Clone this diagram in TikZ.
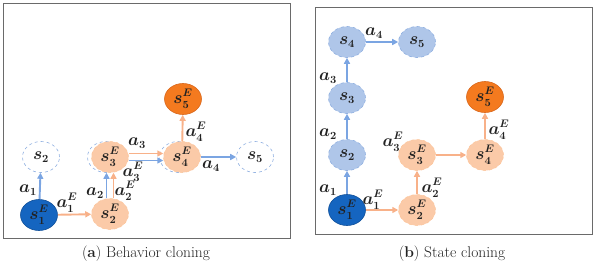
\documentclass[tikz,border=0pt]{standalone}
\usetikzlibrary{shapes.geometric,arrows.meta}
\definecolor{dblue}{HTML}{1565C0}
\definecolor{dbluee}{HTML}{0E4E98}
\definecolor{lorange}{HTML}{FBCAA8}
\definecolor{dorange}{HTML}{F47A1F}
\definecolor{dorangee}{HTML}{D8661A}
\definecolor{lblue}{HTML}{AFC6E9}
\definecolor{dashblue}{HTML}{8DAEE0}
\definecolor{barrowc}{HTML}{7BA5E2}
\definecolor{oarrowc}{HTML}{F8B189}
\definecolor{framec}{HTML}{6A6A6A}
\definecolor{textc}{HTML}{222222}
\tikzset{
  st/.style={ellipse,minimum width=37pt,minimum height=31pt,inner sep=0pt,text=textc,font=\fontsize{16}{18}\selectfont\boldmath},
  startst/.style={st,fill=dblue,draw=dbluee,line width=0.6pt},
  expst/.style={st,fill=lorange,draw=lorange!90!orange,dashed,line width=0.5pt},
  goalst/.style={st,fill=dorange,draw=dorangee,line width=0.6pt},
  emptyst/.style={st,draw=dashblue,dashed,line width=0.6pt},
  bluest/.style={st,fill=lblue,draw=dashblue,dashed,line width=0.6pt},
  ghost/.style={ellipse,minimum width=37pt,minimum height=31pt,inner sep=0pt,draw=dashblue,dashed,line width=0.6pt},
  barrow/.style={draw=barrowc,line width=1.9pt,-{Triangle[length=6pt,width=6pt]}},
  oarrow/.style={draw=oarrowc,line width=1.9pt,-{Triangle[length=6pt,width=6pt]}},
  lab/.style={font=\fontsize{16}{18}\selectfont\boldmath,text=textc,inner sep=0pt},
  frame/.style={draw=framec,line width=0.9pt},
  captext/.style={font=\fontsize{15.5}{17}\selectfont,text=textc}
}
\begin{document}
\begin{tikzpicture}[x=1pt,y=-1pt]
\useasboundingbox (0,0) rectangle (597,266);
% frames
\draw[frame] (3,3) rectangle (290,238);
\draw[frame] (315,7) rectangle (592,234);
% ---------- left panel ----------
\node[ghost] (g3) at (106,157) {};
\node[ghost] (g4) at (178,157) {};
\node[startst] (L1E) at (39,215) {$s_1^E$};
\node[emptyst] (L2) at (41,157) {$s_2$};
\node[expst] (L2E) at (110,214) {$s_2^E$};
\node[expst] (L3E) at (110,157) {$s_3^E$};
\node[expst] (L4E) at (182,157) {$s_4^E$};
\node[goalst] (L5E) at (183,99) {$s_5^E$};
\node[emptyst] (L5) at (255,157) {$s_5$};
\draw[barrow] (L1E) -- (L2);
\node[lab] (la1) at (28,190) {$a_1$};
\draw[oarrow] (L1E) -- (L2E);
\node[lab] (la1E) at (67,203) {$a_1^E$};
\draw[barrow] ([xshift=-3.5pt]L2E.north) -- ([xshift=-3.5pt]L3E.south);
\node[lab] (la2) at (95,193) {$a_2$};
\draw[oarrow] ([xshift=3.5pt]L2E.north) -- ([xshift=3.5pt]L3E.south);
\node[lab] (la2E) at (125,191) {$a_2^E$};
\draw[barrow] ([yshift=-3.5pt]L3E.east) -- ([yshift=-3.5pt]L4E.west);
\node[lab] (la3) at (137,143) {$a_3$};
\draw[oarrow] ([yshift=3.5pt]L3E.east) -- ([yshift=3.5pt]L4E.west);
\node[lab] (la3E) at (133,172) {$a_3^E$};
\draw[barrow] (L4E) -- (L5);
\node[lab] (la4) at (211,166) {$a_4$};
\draw[oarrow] (L4E) -- (L5E);
\node[lab] (la4E) at (196,132) {$a_4^E$};
\node[captext] (capa) at (146,254) {(\textbf{a}) Behavior cloning};
% ---------- right panel ----------
\node[startst] (R1E) at (347,210) {$s_1^E$};
\node[bluest] (R2) at (347,155) {$s_2$};
\node[bluest] (R3) at (347,98) {$s_3$};
\node[bluest] (R4) at (347,42) {$s_4$};
\node[bluest] (R5) at (417,42) {$s_5$};
\node[expst] (R2E) at (417,210) {$s_2^E$};
\node[expst] (R3E) at (417,155) {$s_3^E$};
\node[expst] (R4E) at (485,155) {$s_4^E$};
\node[goalst] (R5E) at (485,97) {$s_5^E$};
\draw[barrow] (R1E) -- (R2);
\node[lab] (ra1) at (328,190) {$a_1$};
\draw[barrow] (R2) -- (R3);
\node[lab] (ra2) at (328,134) {$a_2$};
\draw[barrow] (R3) -- (R4);
\node[lab] (ra3) at (328,78) {$a_3$};
\draw[barrow] (R4) -- (R5);
\node[lab] (ra4) at (374,33) {$a_4$};
\draw[oarrow] (R1E) -- (R2E);
\node[lab] (ra1E) at (373,200) {$a_1^E$};
\draw[oarrow] (R2E) -- (R3E);
\node[lab] (ra2E) at (432,188) {$a_2^E$};
\draw[oarrow] (R3E) -- (R4E);
\node[lab] (ra3E) at (393,142) {$a_3^E$};
\draw[oarrow] (R4E) -- (R5E);
\node[lab] (ra4E) at (499,130) {$a_4^E$};
\node[captext] (capb) at (452,254) {(\textbf{b}) State cloning};
\end{tikzpicture}
\end{document}
